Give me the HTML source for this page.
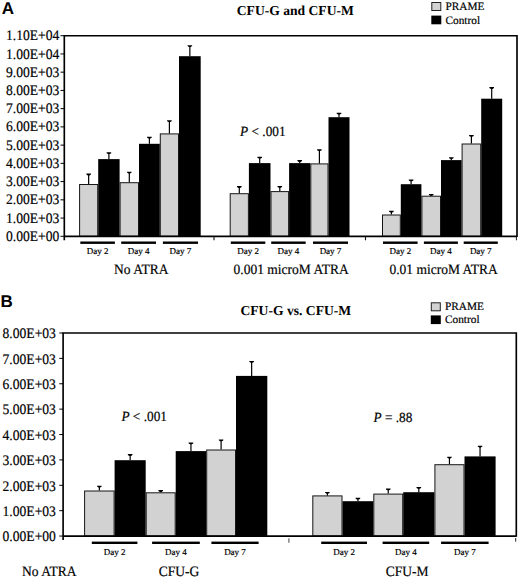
<!DOCTYPE html>
<html><head><meta charset="utf-8"><title>CFU-G and CFU-M</title>
<style>
html,body{margin:0;padding:0;background:#fff;}
body{width:520px;height:578px;overflow:hidden;}
svg{display:block;}
text{font-family:"Liberation Serif",serif;fill:#000;text-rendering:geometricPrecision;stroke:#000;stroke-width:0.18px;}
.title,.letter{stroke:none;}
.yl{font-size:13.6px;text-anchor:end;}
.day{font-size:9.0px;text-anchor:middle;}
.gl{font-size:13.5px;text-anchor:middle;}
.title{font-size:13.6px;font-weight:bold;}
.leg{font-size:11.3px;}
.letter{font-family:"Liberation Sans",sans-serif;font-weight:bold;font-size:17px;}
.pv{font-size:13.3px;}
</style></head>
<body>
<svg width="520" height="578" viewBox="0 0 520 578">
<rect x="79.60" y="184.50" width="18.10" height="51.80" fill="#d2d2d2" stroke="#161616" stroke-width="1"/>
<rect x="98.20" y="159.10" width="21.40" height="77.20" fill="#000"/>
<rect x="120.10" y="182.70" width="18.40" height="53.60" fill="#d2d2d2" stroke="#161616" stroke-width="1"/>
<rect x="139.00" y="143.80" width="20.80" height="92.50" fill="#000"/>
<rect x="160.30" y="133.90" width="18.20" height="102.40" fill="#d2d2d2" stroke="#161616" stroke-width="1"/>
<rect x="179.00" y="56.20" width="21.70" height="180.10" fill="#000"/>
<rect x="230.20" y="193.70" width="18.20" height="42.60" fill="#d2d2d2" stroke="#161616" stroke-width="1"/>
<rect x="248.90" y="163.10" width="21.60" height="73.20" fill="#000"/>
<rect x="271.00" y="191.60" width="17.60" height="44.70" fill="#d2d2d2" stroke="#161616" stroke-width="1"/>
<rect x="289.10" y="163.10" width="21.20" height="73.20" fill="#000"/>
<rect x="310.80" y="163.90" width="17.20" height="72.40" fill="#d2d2d2" stroke="#161616" stroke-width="1"/>
<rect x="328.50" y="117.20" width="21.00" height="119.10" fill="#000"/>
<rect x="382.50" y="215.00" width="17.80" height="21.30" fill="#d2d2d2" stroke="#161616" stroke-width="1"/>
<rect x="400.80" y="184.20" width="20.60" height="52.10" fill="#000"/>
<rect x="421.90" y="196.20" width="18.60" height="40.10" fill="#d2d2d2" stroke="#161616" stroke-width="1"/>
<rect x="441.00" y="160.10" width="20.60" height="76.20" fill="#000"/>
<rect x="462.10" y="144.00" width="18.60" height="92.30" fill="#d2d2d2" stroke="#161616" stroke-width="1"/>
<rect x="481.20" y="98.70" width="21.00" height="137.60" fill="#000"/>
<line x1="88.65" y1="184.00" x2="88.65" y2="174.30" stroke="#000" stroke-width="1.2"/>
<path d="M86.35,173.60 H90.95 V174.50 L89.55,175.40 H87.75 L86.35,174.50 Z" fill="#000"/>
<line x1="108.90" y1="159.10" x2="108.90" y2="153.00" stroke="#000" stroke-width="1.2"/>
<path d="M106.60,152.30 H111.20 V153.20 L109.80,154.10 H108.00 L106.60,153.20 Z" fill="#000"/>
<line x1="129.30" y1="182.20" x2="129.30" y2="172.40" stroke="#000" stroke-width="1.2"/>
<path d="M127.00,171.70 H131.60 V172.60 L130.20,173.50 H128.40 L127.00,172.60 Z" fill="#000"/>
<line x1="149.40" y1="143.80" x2="149.40" y2="137.50" stroke="#000" stroke-width="1.2"/>
<path d="M147.10,136.80 H151.70 V137.70 L150.30,138.60 H148.50 L147.10,137.70 Z" fill="#000"/>
<line x1="169.40" y1="133.40" x2="169.40" y2="121.00" stroke="#000" stroke-width="1.2"/>
<path d="M167.10,120.30 H171.70 V121.20 L170.30,122.10 H168.50 L167.10,121.20 Z" fill="#000"/>
<line x1="189.85" y1="56.20" x2="189.85" y2="45.90" stroke="#000" stroke-width="1.2"/>
<path d="M187.55,45.20 H192.15 V46.10 L190.75,47.00 H188.95 L187.55,46.10 Z" fill="#000"/>
<line x1="239.30" y1="193.20" x2="239.30" y2="186.80" stroke="#000" stroke-width="1.2"/>
<path d="M237.00,186.10 H241.60 V187.00 L240.20,187.90 H238.40 L237.00,187.00 Z" fill="#000"/>
<line x1="259.70" y1="163.10" x2="259.70" y2="157.50" stroke="#000" stroke-width="1.2"/>
<path d="M257.40,156.80 H262.00 V157.70 L260.60,158.60 H258.80 L257.40,157.70 Z" fill="#000"/>
<line x1="279.80" y1="191.10" x2="279.80" y2="186.70" stroke="#000" stroke-width="1.2"/>
<path d="M277.50,186.00 H282.10 V186.90 L280.70,187.80 H278.90 L277.50,186.90 Z" fill="#000"/>
<line x1="299.70" y1="163.10" x2="299.70" y2="160.80" stroke="#000" stroke-width="1.2"/>
<path d="M297.40,160.10 H302.00 V161.00 L300.60,161.90 H298.80 L297.40,161.00 Z" fill="#000"/>
<line x1="319.40" y1="163.40" x2="319.40" y2="150.00" stroke="#000" stroke-width="1.2"/>
<path d="M317.10,149.30 H321.70 V150.20 L320.30,151.10 H318.50 L317.10,150.20 Z" fill="#000"/>
<line x1="339.00" y1="117.20" x2="339.00" y2="113.50" stroke="#000" stroke-width="1.2"/>
<path d="M336.70,112.80 H341.30 V113.70 L339.90,114.60 H338.10 L336.70,113.70 Z" fill="#000"/>
<line x1="391.40" y1="214.50" x2="391.40" y2="211.50" stroke="#000" stroke-width="1.2"/>
<path d="M389.10,210.80 H393.70 V211.70 L392.30,212.60 H390.50 L389.10,211.70 Z" fill="#000"/>
<line x1="411.10" y1="184.20" x2="411.10" y2="180.20" stroke="#000" stroke-width="1.2"/>
<path d="M408.80,179.50 H413.40 V180.40 L412.00,181.30 H410.20 L408.80,180.40 Z" fill="#000"/>
<line x1="431.20" y1="195.70" x2="431.20" y2="194.70" stroke="#000" stroke-width="1.2"/>
<path d="M428.90,194.00 H433.50 V194.90 L432.10,195.80 H430.30 L428.90,194.90 Z" fill="#000"/>
<line x1="451.30" y1="160.10" x2="451.30" y2="157.90" stroke="#000" stroke-width="1.2"/>
<path d="M449.00,157.20 H453.60 V158.10 L452.20,159.00 H450.40 L449.00,158.10 Z" fill="#000"/>
<line x1="471.40" y1="143.50" x2="471.40" y2="135.70" stroke="#000" stroke-width="1.2"/>
<path d="M469.10,135.00 H473.70 V135.90 L472.30,136.80 H470.50 L469.10,135.90 Z" fill="#000"/>
<line x1="491.70" y1="98.70" x2="491.70" y2="87.80" stroke="#000" stroke-width="1.2"/>
<path d="M489.40,87.10 H494.00 V88.00 L492.60,88.90 H490.80 L489.40,88.00 Z" fill="#000"/>
<path d="M64.3,240.3 V35.7 H517.0 V237.05" fill="none" stroke="#000" stroke-width="1.65"/>
<path d="M516.40,236.3 V240.3" stroke="#222" stroke-width="1"/>
<path d="M64.3,236.3 H517.0" fill="none" stroke="#000" stroke-width="1.65"/>
<path d="M214.0,236.3 V240.3" stroke="#111" stroke-width="1.1"/>
<path d="M365.5,236.3 V240.3" stroke="#111" stroke-width="1.1"/>
<path d="M60.50,236.30 H64.3" stroke="#000" stroke-width="1"/>
<text transform="translate(59.30,240.90) scale(1.0,1.07)" class="yl">0.00E+00</text>
<path d="M60.50,218.06 H64.3" stroke="#000" stroke-width="1"/>
<text transform="translate(59.30,222.66) scale(1.0,1.07)" class="yl">1.00E+03</text>
<path d="M60.50,199.83 H64.3" stroke="#000" stroke-width="1"/>
<text transform="translate(59.30,204.43) scale(1.0,1.07)" class="yl">2.00E+03</text>
<path d="M60.50,181.59 H64.3" stroke="#000" stroke-width="1"/>
<text transform="translate(59.30,186.19) scale(1.0,1.07)" class="yl">3.00E+03</text>
<path d="M60.50,163.35 H64.3" stroke="#000" stroke-width="1"/>
<text transform="translate(59.30,167.95) scale(1.0,1.07)" class="yl">4.00E+03</text>
<path d="M60.50,145.12 H64.3" stroke="#000" stroke-width="1"/>
<text transform="translate(59.30,149.72) scale(1.0,1.07)" class="yl">5.00E+03</text>
<path d="M60.50,126.88 H64.3" stroke="#000" stroke-width="1"/>
<text transform="translate(59.30,131.48) scale(1.0,1.07)" class="yl">6.00E+03</text>
<path d="M60.50,108.65 H64.3" stroke="#000" stroke-width="1"/>
<text transform="translate(59.30,113.25) scale(1.0,1.07)" class="yl">7.00E+03</text>
<path d="M60.50,90.41 H64.3" stroke="#000" stroke-width="1"/>
<text transform="translate(59.30,95.01) scale(1.0,1.07)" class="yl">8.00E+03</text>
<path d="M60.50,72.17 H64.3" stroke="#000" stroke-width="1"/>
<text transform="translate(59.30,76.77) scale(1.0,1.07)" class="yl">9.00E+03</text>
<path d="M60.50,53.94 H64.3" stroke="#000" stroke-width="1"/>
<text transform="translate(59.30,58.54) scale(1.0,1.07)" class="yl">1.00E+04</text>
<path d="M60.50,35.70 H64.3" stroke="#000" stroke-width="1"/>
<text transform="translate(59.30,40.30) scale(1.0,1.07)" class="yl">1.10E+04</text>
<rect x="80.3" y="241.50" width="34.60" height="2.4" fill="#000"/>
<rect x="121.2" y="241.50" width="34.80" height="2.4" fill="#000"/>
<rect x="162.9" y="241.50" width="35.10" height="2.4" fill="#000"/>
<rect x="230.8" y="241.50" width="34.50" height="2.4" fill="#000"/>
<rect x="271.2" y="241.50" width="34.50" height="2.4" fill="#000"/>
<rect x="313.0" y="241.50" width="35.00" height="2.4" fill="#000"/>
<rect x="383.0" y="241.50" width="34.60" height="2.4" fill="#000"/>
<rect x="423.9" y="241.50" width="34.00" height="2.4" fill="#000"/>
<rect x="463.7" y="241.50" width="34.10" height="2.4" fill="#000"/>
<text x="97.60" y="254.30" class="day">Day 2</text>
<text x="138.60" y="254.30" class="day">Day 4</text>
<text x="180.45" y="254.30" class="day">Day 7</text>
<text x="248.05" y="254.30" class="day">Day 2</text>
<text x="288.45" y="254.30" class="day">Day 4</text>
<text x="330.50" y="254.30" class="day">Day 7</text>
<text x="400.30" y="254.30" class="day">Day 2</text>
<text x="440.90" y="254.30" class="day">Day 4</text>
<text x="480.75" y="254.30" class="day">Day 7</text>
<text transform="translate(141.20,273.90) scale(1.0,1.06)" class="gl">No ATRA</text>
<text transform="translate(291.10,273.90) scale(1.0,1.06)" class="gl">0.001 microM ATRA</text>
<text transform="translate(443.60,273.90) scale(1.0,1.06)" class="gl">0.01 microM ATRA</text>
<text x="236.80" y="15.20" class="title">CFU-G and CFU-M</text>
<rect x="431.8" y="2.5" width="9" height="8" fill="#d2d2d2" stroke="#222" stroke-width="1"/>
<rect x="431.3" y="15.6" width="10" height="8.7" fill="#000"/>
<text x="445.50" y="10.20" class="leg">PRAME</text>
<text x="445.50" y="23.60" class="leg">Control</text>
<text x="1.70" y="13.90" class="letter">A</text>
<text transform="translate(240.10,135.90) scale(1.0,1.06)" class="pv"><tspan font-style="italic">P</tspan> &lt; .001</text>
<rect x="84.60" y="491.00" width="29.50" height="45.05" fill="#d2d2d2" stroke="#161616" stroke-width="1"/>
<rect x="114.60" y="460.20" width="31.10" height="75.85" fill="#000"/>
<rect x="146.20" y="492.80" width="29.00" height="43.25" fill="#d2d2d2" stroke="#161616" stroke-width="1"/>
<rect x="175.70" y="451.10" width="30.50" height="84.95" fill="#000"/>
<rect x="206.70" y="450.00" width="28.80" height="86.05" fill="#d2d2d2" stroke="#161616" stroke-width="1"/>
<rect x="236.00" y="375.90" width="31.30" height="160.15" fill="#000"/>
<rect x="312.80" y="495.90" width="29.20" height="40.15" fill="#d2d2d2" stroke="#161616" stroke-width="1"/>
<rect x="342.50" y="501.20" width="30.80" height="34.85" fill="#000"/>
<rect x="373.80" y="494.10" width="28.90" height="41.95" fill="#d2d2d2" stroke="#161616" stroke-width="1"/>
<rect x="403.20" y="492.20" width="31.20" height="43.85" fill="#000"/>
<rect x="434.90" y="464.70" width="29.10" height="71.35" fill="#d2d2d2" stroke="#161616" stroke-width="1"/>
<rect x="464.50" y="456.40" width="31.10" height="79.65" fill="#000"/>
<line x1="99.35" y1="490.50" x2="99.35" y2="486.40" stroke="#000" stroke-width="1.2"/>
<path d="M97.05,485.70 H101.65 V486.60 L100.25,487.50 H98.45 L97.05,486.60 Z" fill="#000"/>
<line x1="130.15" y1="460.20" x2="130.15" y2="454.80" stroke="#000" stroke-width="1.2"/>
<path d="M127.85,454.10 H132.45 V455.00 L131.05,455.90 H129.25 L127.85,455.00 Z" fill="#000"/>
<line x1="160.70" y1="492.30" x2="160.70" y2="490.80" stroke="#000" stroke-width="1.2"/>
<path d="M158.40,490.10 H163.00 V491.00 L161.60,491.90 H159.80 L158.40,491.00 Z" fill="#000"/>
<line x1="190.95" y1="451.10" x2="190.95" y2="443.20" stroke="#000" stroke-width="1.2"/>
<path d="M188.65,442.50 H193.25 V443.40 L191.85,444.30 H190.05 L188.65,443.40 Z" fill="#000"/>
<line x1="221.10" y1="449.50" x2="221.10" y2="440.10" stroke="#000" stroke-width="1.2"/>
<path d="M218.80,439.40 H223.40 V440.30 L222.00,441.20 H220.20 L218.80,440.30 Z" fill="#000"/>
<line x1="251.65" y1="375.90" x2="251.65" y2="361.70" stroke="#000" stroke-width="1.2"/>
<path d="M249.35,361.00 H253.95 V361.90 L252.55,362.80 H250.75 L249.35,361.90 Z" fill="#000"/>
<line x1="327.40" y1="495.40" x2="327.40" y2="492.60" stroke="#000" stroke-width="1.2"/>
<path d="M325.10,491.90 H329.70 V492.80 L328.30,493.70 H326.50 L325.10,492.80 Z" fill="#000"/>
<line x1="357.90" y1="501.20" x2="357.90" y2="498.50" stroke="#000" stroke-width="1.2"/>
<path d="M355.60,497.80 H360.20 V498.70 L358.80,499.60 H357.00 L355.60,498.70 Z" fill="#000"/>
<line x1="388.25" y1="493.60" x2="388.25" y2="489.20" stroke="#000" stroke-width="1.2"/>
<path d="M385.95,488.50 H390.55 V489.40 L389.15,490.30 H387.35 L385.95,489.40 Z" fill="#000"/>
<line x1="418.80" y1="492.20" x2="418.80" y2="487.70" stroke="#000" stroke-width="1.2"/>
<path d="M416.50,487.00 H421.10 V487.90 L419.70,488.80 H417.90 L416.50,487.90 Z" fill="#000"/>
<line x1="449.45" y1="464.20" x2="449.45" y2="457.40" stroke="#000" stroke-width="1.2"/>
<path d="M447.15,456.70 H451.75 V457.60 L450.35,458.50 H448.55 L447.15,457.60 Z" fill="#000"/>
<line x1="480.05" y1="456.40" x2="480.05" y2="446.40" stroke="#000" stroke-width="1.2"/>
<path d="M477.75,445.70 H482.35 V446.60 L480.95,447.50 H479.15 L477.75,446.60 Z" fill="#000"/>
<path d="M63.1,540.05 V333.0 H516.3 V536.8" fill="none" stroke="#000" stroke-width="1.65"/>
<path d="M515.70,538.05 V541.65" stroke="#222" stroke-width="1"/>
<path d="M63.1,536.05 H516.3" fill="none" stroke="#000" stroke-width="1.65"/>
<path d="M288.9,538.25 V542.8499999999999" stroke="#555" stroke-width="1.1"/>
<path d="M59.30,536.05 H63.1" stroke="#000" stroke-width="1"/>
<text transform="translate(55.90,541.35) scale(1.0,1.07)" class="yl">0.00E+00</text>
<path d="M59.30,510.67 H63.1" stroke="#000" stroke-width="1"/>
<text transform="translate(55.90,515.97) scale(1.0,1.07)" class="yl">1.00E+03</text>
<path d="M59.30,485.29 H63.1" stroke="#000" stroke-width="1"/>
<text transform="translate(55.90,490.59) scale(1.0,1.07)" class="yl">2.00E+03</text>
<path d="M59.30,459.91 H63.1" stroke="#000" stroke-width="1"/>
<text transform="translate(55.90,465.21) scale(1.0,1.07)" class="yl">3.00E+03</text>
<path d="M59.30,434.52 H63.1" stroke="#000" stroke-width="1"/>
<text transform="translate(55.90,439.82) scale(1.0,1.07)" class="yl">4.00E+03</text>
<path d="M59.30,409.14 H63.1" stroke="#000" stroke-width="1"/>
<text transform="translate(55.90,414.44) scale(1.0,1.07)" class="yl">5.00E+03</text>
<path d="M59.30,383.76 H63.1" stroke="#000" stroke-width="1"/>
<text transform="translate(55.90,389.06) scale(1.0,1.07)" class="yl">6.00E+03</text>
<path d="M59.30,358.38 H63.1" stroke="#000" stroke-width="1"/>
<text transform="translate(55.90,363.68) scale(1.0,1.07)" class="yl">7.00E+03</text>
<path d="M59.30,333.00 H63.1" stroke="#000" stroke-width="1"/>
<text transform="translate(55.90,338.30) scale(1.0,1.07)" class="yl">8.00E+03</text>
<rect x="91.8" y="541.60" width="45.60" height="2.4" fill="#000"/>
<rect x="152.1" y="541.60" width="47.70" height="2.4" fill="#000"/>
<rect x="211.4" y="541.60" width="47.20" height="2.4" fill="#000"/>
<rect x="321.2" y="541.60" width="45.80" height="2.4" fill="#000"/>
<rect x="382.6" y="541.60" width="46.60" height="2.4" fill="#000"/>
<rect x="441.1" y="541.60" width="47.50" height="2.4" fill="#000"/>
<text x="114.60" y="555.30" class="day">Day 2</text>
<text x="175.95" y="555.30" class="day">Day 4</text>
<text x="235.00" y="555.30" class="day">Day 7</text>
<text x="344.10" y="555.30" class="day">Day 2</text>
<text x="405.90" y="555.30" class="day">Day 4</text>
<text x="464.85" y="555.30" class="day">Day 7</text>
<text transform="translate(49.30,576.00) scale(1.0,1.06)" class="gl">No ATRA</text>
<text transform="translate(178.90,576.00) scale(1.0,1.06)" class="gl">CFU-G</text>
<text transform="translate(407.00,576.00) scale(1.0,1.06)" class="gl">CFU-M</text>
<text x="240.50" y="314.50" class="title">CFU-G vs. CFU-M</text>
<rect x="431.3" y="302.8" width="9" height="8" fill="#d2d2d2" stroke="#222" stroke-width="1"/>
<rect x="430.8" y="315.4" width="10" height="8.7" fill="#000"/>
<text x="445.00" y="310.20" class="leg">PRAME</text>
<text x="445.00" y="323.40" class="leg">Control</text>
<text x="0.50" y="307.20" class="letter">B</text>
<text transform="translate(121.40,421.30) scale(1.0,1.06)" class="pv"><tspan font-style="italic">P</tspan> &lt; .001</text>
<text transform="translate(373.50,421.50) scale(1.0,1.06)" class="pv"><tspan font-style="italic">P</tspan> = .88</text>
</svg>
</body></html>
